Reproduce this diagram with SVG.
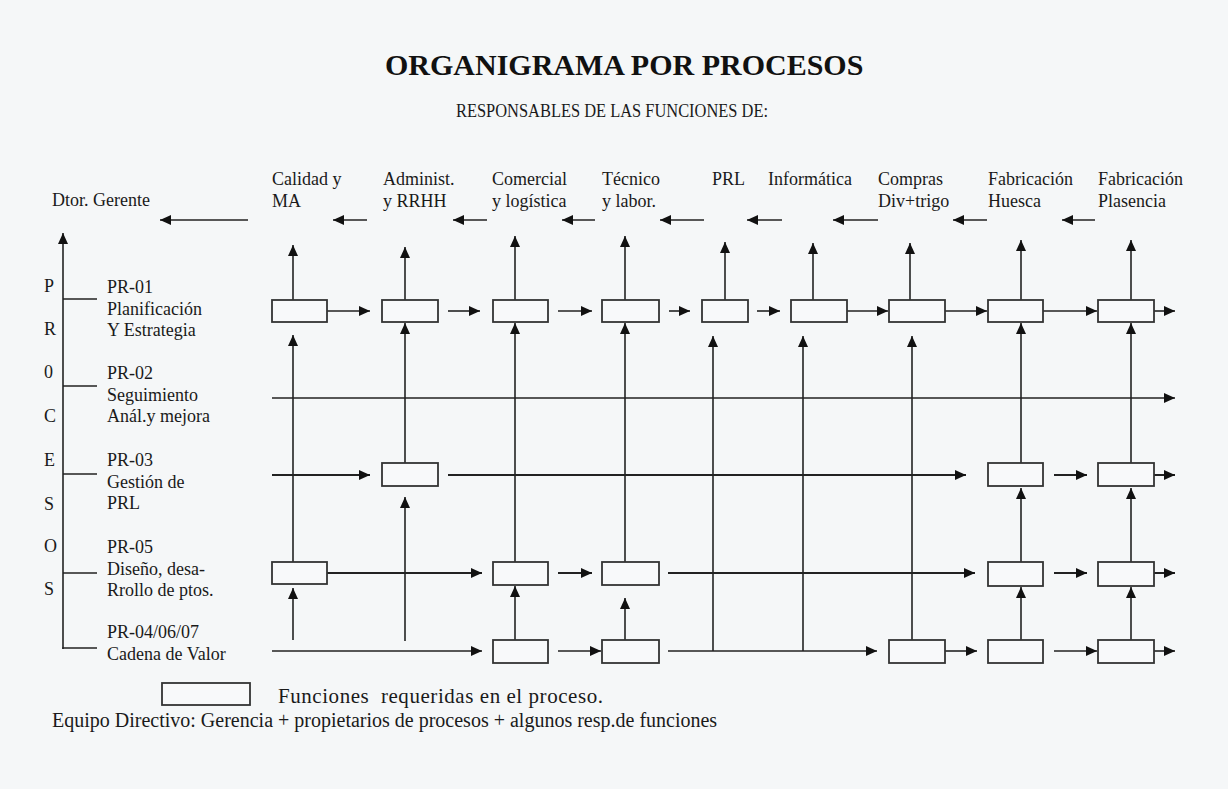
<svg xmlns="http://www.w3.org/2000/svg" width="1228" height="789" viewBox="0 0 1228 789">
<defs>
<marker id="ah" markerUnits="userSpaceOnUse" markerWidth="12" markerHeight="10" refX="11" refY="5" orient="auto">
<path d="M0,0 L11,5 L0,10 z" fill="#111"/>
</marker>
<style>
.t{font-family:"Liberation Serif","Times New Roman",serif;font-size:18px;fill:#1a1a1a}
.lg{font-family:"Liberation Serif","Times New Roman",serif;font-size:20px;fill:#1a1a1a}
.title{font-family:"Liberation Serif","Times New Roman",serif;font-size:30px;font-weight:bold;fill:#111}
.sub{font-family:"Liberation Serif","Times New Roman",serif;font-size:18px;fill:#1a1a1a}
.box{fill:#f8f9fa;stroke:#333;stroke-width:1.8}
.c{stroke:#222;stroke-width:1.6;fill:none}
.a{stroke:#222;stroke-width:1.6;fill:none;marker-end:url(#ah)}
.thin{stroke-width:1.3}
.bold{stroke-width:2}
</style>
</defs>
<rect x="0" y="0" width="1228" height="789" fill="#f5f7f8"/>

<g id="header">
<text class="title" x="385" y="75">ORGANIGRAMA POR PROCESOS</text>
<text class="sub" x="456" y="117" textLength="312" lengthAdjust="spacingAndGlyphs">RESPONSABLES DE LAS FUNCIONES DE:</text>
</g>

<g id="functions">
<text class="t" x="52" y="206">Dtor. Gerente</text>
<text class="t" x="272" y="185">Calidad y</text><text class="t" x="272" y="207">MA</text>
<text class="t" x="383" y="185">Administ.</text><text class="t" x="383" y="207">y RRHH</text>
<text class="t" x="492" y="185">Comercial</text><text class="t" x="492" y="207">y logística</text>
<text class="t" x="602" y="185">Técnico</text><text class="t" x="602" y="207">y labor.</text>
<text class="t" x="712" y="185">PRL</text>
<text class="t" x="768" y="185">Informática</text>
<text class="t" x="878" y="185">Compras</text><text class="t" x="878" y="207">Div+trigo</text>
<text class="t" x="988" y="185">Fabricación</text><text class="t" x="988" y="207">Huesca</text>
<text class="t" x="1098" y="185">Fabricación</text><text class="t" x="1098" y="207">Plasencia</text>
</g>

<g id="procesos-letters">
<text class="t" x="44" y="292">P</text>
<text class="t" x="44" y="335">R</text>
<text class="t" x="44" y="378">0</text>
<text class="t" x="44" y="422">C</text>
<text class="t" x="44" y="466">E</text>
<text class="t" x="44" y="510">S</text>
<text class="t" x="44" y="552">O</text>
<text class="t" x="44" y="595">S</text>
</g>

<g id="processes">
<text class="t" x="107" y="293">PR-01</text><text class="t" x="107" y="315">Planificación</text><text class="t" x="107" y="336">Y Estrategia</text>
<text class="t" x="107" y="379">PR-02</text><text class="t" x="107" y="401">Seguimiento</text><text class="t" x="107" y="422">Anál.y mejora</text>
<text class="t" x="107" y="466">PR-03</text><text class="t" x="107" y="488">Gestión de</text><text class="t" x="107" y="509">PRL</text>
<text class="t" x="107" y="553">PR-05</text><text class="t" x="107" y="575">Diseño, desa-</text><text class="t" x="107" y="596">Rrollo de ptos.</text>
<text class="t" x="107" y="638">PR-04/06/07</text><text class="t" x="107" y="660">Cadena de Valor</text>
</g>

<g id="connectors">
<!-- header arrows -->
<line class="a" x1="248" y1="220" x2="160" y2="220"/>
<line class="a" x1="367" y1="220" x2="333" y2="220"/>
<line class="a" x1="487" y1="220" x2="453" y2="220"/>
<line class="a" x1="595" y1="220" x2="562" y2="220"/>
<line class="a" x1="704" y1="220" x2="660" y2="220"/>
<line class="a" x1="782" y1="220" x2="747" y2="220"/>
<line class="a" x1="878" y1="220" x2="833" y2="220"/>
<line class="a" x1="987" y1="220" x2="953" y2="220"/>
<line class="a" x1="1095" y1="220" x2="1062" y2="220"/>
<!-- process axis -->
<line class="a" x1="63" y1="649" x2="63" y2="233"/>
<line class="c" x1="63" y1="299" x2="97" y2="299"/>
<line class="c" x1="63" y1="386" x2="97" y2="386"/>
<line class="c" x1="63" y1="474" x2="97" y2="474"/>
<line class="c" x1="63" y1="573" x2="97" y2="573"/>
<line class="c" x1="62.2" y1="648" x2="97" y2="648"/>
<!-- up to function heads -->
<line class="a" x1="293" y1="300" x2="293" y2="245"/>
<line class="a" x1="405" y1="300" x2="405" y2="247"/>
<line class="a" x1="515" y1="300" x2="515" y2="236"/>
<line class="a" x1="625" y1="300" x2="625" y2="236"/>
<line class="a" x1="725" y1="300" x2="725" y2="242"/>
<line class="a" x1="813" y1="300" x2="813" y2="243"/>
<line class="a" x1="910" y1="300" x2="910" y2="243"/>
<line class="a" x1="1021" y1="300" x2="1021" y2="240"/>
<line class="a" x1="1131" y1="300" x2="1131" y2="240"/>
<!-- verticals between rows -->
<line class="a" x1="293" y1="562" x2="293" y2="335"/>
<line class="a" x1="293" y1="640" x2="293" y2="588"/>
<line class="a" x1="405" y1="463" x2="405" y2="323"/>
<line class="a" x1="405" y1="641" x2="405" y2="497"/>
<line class="a" x1="515" y1="562" x2="515" y2="323"/>
<line class="a" x1="515" y1="640" x2="515" y2="586"/>
<line class="a" x1="625" y1="562" x2="625" y2="323"/>
<line class="a" x1="625" y1="640" x2="625" y2="598"/>
<line class="a" x1="713" y1="651" x2="713" y2="336"/>
<line class="a" x1="803" y1="651" x2="803" y2="336"/>
<line class="a" x1="912" y1="640" x2="912" y2="336"/>
<line class="a" x1="1021" y1="463" x2="1021" y2="323"/>
<line class="a" x1="1021" y1="562" x2="1021" y2="488"/>
<line class="a" x1="1021" y1="640" x2="1021" y2="587"/>
<line class="a" x1="1131" y1="463" x2="1131" y2="323"/>
<line class="a" x1="1131" y1="562" x2="1131" y2="488"/>
<line class="a" x1="1131" y1="640" x2="1131" y2="587"/>
<!-- row 1 -->
<line class="a" x1="327" y1="311" x2="370" y2="311"/>
<line class="a" x1="448" y1="311" x2="480" y2="311"/>
<line class="a" x1="558" y1="311" x2="592" y2="311"/>
<line class="a" x1="669" y1="311" x2="690" y2="311"/>
<line class="a" x1="757" y1="311" x2="780" y2="311"/>
<line class="a" x1="847" y1="311" x2="888" y2="311"/>
<line class="a" x1="945" y1="311" x2="987" y2="311"/>
<line class="a" x1="1043" y1="311" x2="1097" y2="311"/>
<line class="a" x1="1154" y1="311" x2="1175" y2="311"/>
<!-- row 2 -->
<line class="a thin" x1="272" y1="398" x2="1175" y2="398"/>
<!-- row 3 -->
<line class="a bold" x1="272" y1="475" x2="370" y2="475"/>
<line class="a bold" x1="448" y1="475" x2="966" y2="475"/>
<line class="a bold" x1="1054" y1="475" x2="1087" y2="475"/>
<line class="a bold" x1="1154" y1="475" x2="1175" y2="475"/>
<!-- row 4 -->
<line class="a bold" x1="327" y1="573" x2="482" y2="573"/>
<line class="a bold" x1="558" y1="573" x2="592" y2="573"/>
<line class="a bold" x1="668" y1="573" x2="975" y2="573"/>
<line class="a bold" x1="1054" y1="573" x2="1087" y2="573"/>
<line class="a bold" x1="1154" y1="573" x2="1175" y2="573"/>
<!-- row 5 -->
<line class="a" x1="272" y1="651" x2="482" y2="651"/>
<line class="a" x1="558" y1="651" x2="601" y2="651"/>
<line class="a" x1="668" y1="651" x2="877" y2="651"/>
<line class="a" x1="945" y1="651" x2="977" y2="651"/>
<line class="a" x1="1054" y1="651" x2="1097" y2="651"/>
<line class="a" x1="1154" y1="651" x2="1175" y2="651"/>
</g>

<g id="row1">
<rect id="r1-calidad" class="box" x="272" y="300" width="55" height="22"/>
<rect id="r1-admin" class="box" x="382" y="300" width="56" height="22"/>
<rect id="r1-comercial" class="box" x="493" y="300" width="55" height="22"/>
<rect id="r1-tecnico" class="box" x="602" y="300" width="57" height="22"/>
<rect id="r1-prl" class="box" x="702" y="300" width="46" height="22"/>
<rect id="r1-informatica" class="box" x="791" y="300" width="56" height="22"/>
<rect id="r1-compras" class="box" x="889" y="300" width="56" height="22"/>
<rect id="r1-huesca" class="box" x="988" y="300" width="55" height="22"/>
<rect id="r1-plasencia" class="box" x="1098" y="300" width="56" height="22"/>
</g>
<g id="row3">
<rect id="r3-admin" class="box" x="382" y="463" width="56" height="23"/>
<rect id="r3-huesca" class="box" x="988" y="463" width="55" height="23"/>
<rect id="r3-plasencia" class="box" x="1098" y="463" width="56" height="23"/>
</g>
<g id="row4">
<rect id="r4-calidad" class="box" x="272" y="562" width="55" height="22"/>
<rect id="r4-comercial" class="box" x="493" y="562" width="55" height="23"/>
<rect id="r4-tecnico" class="box" x="602" y="562" width="57" height="23"/>
<rect id="r4-huesca" class="box" x="988" y="562" width="55" height="24"/>
<rect id="r4-plasencia" class="box" x="1098" y="562" width="56" height="24"/>
</g>
<g id="row5">
<rect id="r5-comercial" class="box" x="493" y="640" width="55" height="23"/>
<rect id="r5-tecnico" class="box" x="602" y="640" width="57" height="23"/>
<rect id="r5-compras" class="box" x="889" y="640" width="56" height="23"/>
<rect id="r5-huesca" class="box" x="988" y="640" width="55" height="23"/>
<rect id="r5-plasencia" class="box" x="1098" y="640" width="56" height="23"/>
</g>

<g id="legend">
<rect class="box" x="162" y="683" width="88" height="22"/>
<text class="lg" x="278" y="703" style="font-size:21px" textLength="325" lengthAdjust="spacing" xml:space="preserve">Funciones  requeridas en el proceso.</text>
<text class="lg" x="52" y="727">Equipo Directivo: Gerencia + propietarios de procesos + algunos resp.de funciones</text>
</g>
</svg>
